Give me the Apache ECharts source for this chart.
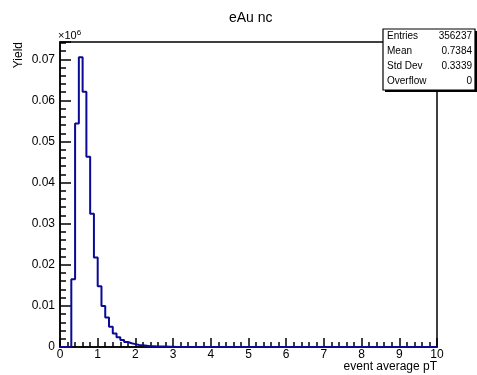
<!DOCTYPE html>
<html><head><meta charset="utf-8">
<script src="https://cdn.jsdelivr.net/npm/echarts@6/dist/echarts.min.js"></script>
<style>html,body{margin:0;padding:0;background:#fff}#c{width:477px;height:375px}</style>
</head><body><div id="c"></div>
<script>
// Histogram: 100 bins from 0 to 10, yield in units of 1e6
const binLow = 0, binHigh = 10, nBins = 100;
const yieldVals = [
 0, 0, 0, 0.0165, 0.0544, 0.0705, 0.0621, 0.0463, 0.0324, 0.0218,
 0.0148, 0.0100, 0.0072, 0.0049, 0.0033, 0.0024, 0.0017, 0.0012, 0.0009, 0.0007,
 0.0005, 0.0004, 0.0003, 0.0002, 0.0002, 0.0001, 0.0001, 0.0001, 0.00005, 0.00005,
 0.00003, 0.00002, 0.00002, 0.00001, 0, 0, 0, 0, 0, 0,
 0, 0, 0, 0, 0, 0, 0, 0, 0, 0,
 0, 0, 0, 0, 0, 0, 0, 0, 0, 0,
 0, 0, 0, 0, 0, 0, 0, 0, 0, 0,
 0, 0, 0, 0, 0, 0, 0, 0, 0, 0,
 0, 0, 0, 0, 0, 0, 0, 0, 0, 0,
 0, 0, 0, 0, 0, 0, 0, 0, 0, 0
];
const xTicks = [0,1,2,3,4,5,6,7,8,9,10];
const statNames = ['Entries','Mean','Std Dev','Overflow'];
const statValues = ['356237','0.7384','0.3339','0'];
const title = 'eAu nc';
const xTitle = 'event average pT';
const yTitle = 'Yield';

const binW = (binHigh - binLow) / nBins;
const pts = yieldVals.map((v, i) => [binLow + i * binW, v]);
pts.push([binHigh, yieldVals[yieldVals.length - 1]]);

const F = 'Liberation Sans, Arial, sans-serif';
const chart = echarts.init(document.getElementById('c'));
const statGraphics = [];
statNames.forEach((n, i) => {
  const y = 37 + i * 15;
  statGraphics.push({type:'text', left:387, top:y - 6, style:{text:n, font:'10px ' + F, fill:'#000'}});
  statGraphics.push({type:'text', right:5, top:y - 6, style:{text:statValues[i], font:'10px ' + F, fill:'#000', textAlign:'right'}});
});
chart.setOption({
  animation:false,
  backgroundColor:'#fff',
  grid:{left:60, top:42, right:40, bottom:28, show:true, borderColor:'#000', borderWidth:1.5},
  xAxis:{type:'value', min:binLow, max:binHigh, interval:1,
    axisLine:{show:true, onZero:false, lineStyle:{color:'#000', width:1.5}},
    axisTick:{show:true, inside:true, length:9, lineStyle:{color:'#000', width:1.5}},
    minorTick:{show:true, splitNumber:5, length:5, lineStyle:{color:'#000', width:1.5}},
    splitLine:{show:false},
    axisLabel:{color:'#000', fontFamily:F, fontSize:12, margin:2, formatter:v => String(v)}},
  yAxis:{type:'value', min:0, max:0.0742, interval:0.01,
    axisLine:{show:true, lineStyle:{color:'#000', width:1.5}},
    axisTick:{show:true, inside:true, length:11, lineStyle:{color:'#000', width:1.5}},
    minorTick:{show:true, splitNumber:5, length:6, lineStyle:{color:'#000', width:1.5}},
    splitLine:{show:false},
    axisLabel:{color:'#000', fontFamily:F, fontSize:12, margin:5, showMaxLabel:false,
      formatter:v => v === 0 ? '0' : v.toFixed(2)}},
  series:[{type:'line', step:'end', data:pts, symbol:'none',
    lineStyle:{color:'#0a0a96', width:2}, clip:true}],
  graphic:[
    {type:'text', left:229, top:11, style:{text:title, font:'14px ' + F, fill:'#000'}},
    {type:'text', right:40, top:361, style:{text:xTitle, font:'12px ' + F, fill:'#000'}},
    {type:'text', x:25, y:42, rotation:Math.PI/2, style:{text:yTitle, font:'12px ' + F, fill:'#000', textAlign:'right', textVerticalAlign:'bottom'}},
    {type:'text', left:58, top:29, style:{rich:{a:{font:'11px ' + F, fill:'#000'}, s:{font:'8px ' + F, fill:'#000', verticalAlign:'top', padding:[0,0,5,0]}}, text:'{a|×10}{s|6}'}},
    {type:'rect', shape:{x:385, y:31, width:92, height:61}, style:{fill:'#000'}},
    {type:'rect', shape:{x:383, y:29, width:92, height:61}, style:{fill:'#fff', stroke:'#000', lineWidth:1.2}},
    ...statGraphics
  ]
});
</script></body></html>
